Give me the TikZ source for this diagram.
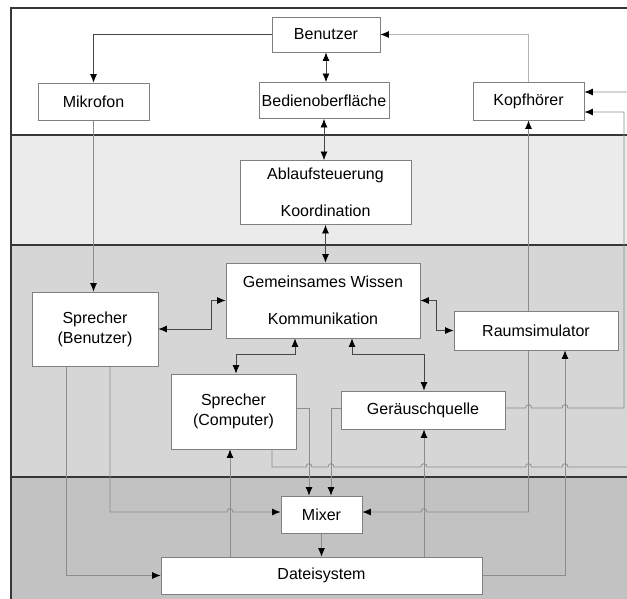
\documentclass[tikz,border=0pt]{standalone}
\usepackage{fontspec}
\setmainfont{Liberation Sans}
\usepackage{tikz}
\usetikzlibrary{arrows.meta}
\definecolor{bandA}{RGB}{235, 235, 235}
\definecolor{bandB}{RGB}{214, 214, 214}
\definecolor{bandC}{RGB}{194, 194, 194}
\definecolor{rim}{RGB}{55, 55, 55}
\definecolor{boxline}{RGB}{128, 128, 128}
\definecolor{midwire}{RGB}{140, 140, 140}
\definecolor{lightwire}{RGB}{180, 180, 180}
\definecolor{darkwire}{RGB}{70, 70, 70}

\pgfdeclarelayer{bands}
\pgfdeclarelayer{wires}
\pgfsetlayers{bands,wires,main}

% kleiner Bogen, wo sich zwei Leitungen kreuzen
\newcommand{\hopr}[2]{-- ({#1-3},#2) .. controls ({#1-3},{#2-4.5}) and ({#1+3},{#2-4.5}) .. ({#1+3},#2)}
\newcommand{\hopl}[2]{-- ({#1+3},#2) .. controls ({#1+3},{#2-4.5}) and ({#1-3},{#2-4.5}) .. ({#1-3},#2)}

\tikzset{
  block/.style={draw=boxline, fill=white, line width=0.9pt, align=center, inner sep=0pt,
    font=\fontsize{16}{20}\selectfont},
  conn/.style={draw=midwire, line width=0.8pt},
  dconn/.style={draw=darkwire, line width=0.8pt},
  lconn/.style={draw=lightwire, line width=0.8pt},
  onearrow/.style={-{Latex[length=8.5pt, width=7pt, color=black]}},
  twoarrow/.style={{Latex[length=8.5pt, width=7pt, color=black]}-{Latex[length=8.5pt, width=7pt, color=black]}}
}

\begin{document}
\begin{tikzpicture}[x=1pt, y=-1pt]
  \useasboundingbox (0, 0) rectangle (627, 598);

  \begin{pgfonlayer}{bands}
    \foreach \ya/\yb/\c in {8/135/white, 135/245/bandA, 245/477/bandB, 477/605/bandC} {
      \fill[\c] (11, \ya) rectangle (640, \yb);
    }
    \foreach \y in {135, 245, 477} {
      \draw[rim, line width=1.8pt] (11, \y) -- (640, \y);
    }
    \draw[rim, line width=1.2pt] (11, 605) -- (11, 8) -- (640, 8);
  \end{pgfonlayer}

  \node[block, minimum width=108, minimum height=35] (benutzer) at (326, 34.5) {Benutzer};
  \node[block, minimum width=111, minimum height=37] (mikro) at (93.5, 101.5) {Mikrofon};
  \node[block, minimum width=130, minimum height=36] (bedien) at (324, 100.5) {Bedienoberfläche};
  \node[block, minimum width=111, minimum height=38] (kopf) at (528.5, 101) {Kopfhörer};
  \node[block, minimum width=171, minimum height=64] (ablauf) at (325.5, 192.5) {Ablaufsteuerung\\[17pt]Koordination};
  \node[block, minimum width=194, minimum height=75] (wissen) at (323, 300.5) {Gemeinsames Wissen\\[17pt]Kommunikation};
  \node[block, minimum width=126, minimum height=74] (sprB) at (95, 329) {Sprecher\\(Benutzer)};
  \node[block, minimum width=164, minimum height=39] (raum) at (536, 330.5) {Raumsimulator};
  \node[block, minimum width=125, minimum height=75] (sprC) at (233.5, 411.5) {Sprecher\\(Computer)};
  \node[block, minimum width=164, minimum height=38] (quelle) at (423, 410) {Geräuschquelle};
  \node[block, minimum width=81, minimum height=37] (mixer) at (321.5, 514.5) {Mixer};
  \node[block, minimum width=321, minimum height=37] (datei) at (321.5, 575.5) {Dateisystem};

  \begin{pgfonlayer}{wires}
    % oberer Teil
    \draw[dconn, onearrow] (benutzer.west) -| (mikro.north);
    \draw[dconn, twoarrow] (benutzer.south) -- (benutzer.south |- bedien.north);
    \draw[lconn, onearrow] (kopf.north) |- (benutzer.east);
    \draw[dconn, twoarrow] (bedien.south) -- (bedien.south |- ablauf.north);
    \draw[dconn, twoarrow] (ablauf.south) -- (ablauf.south |- wissen.north);
    \draw[conn, onearrow] (mikro.south) -- (mikro.south |- sprB.north);
    \draw[dconn, twoarrow] (sprB.east) -- ++(53, 0) |- (wissen.west);
    \draw[dconn, twoarrow] (wissen.east) -- ++(16, 0) |- (raum.west);
    \draw[dconn, twoarrow] ([xshift=-28]wissen.south) -- ++(0, 16) -| ([xshift=2.5]sprC.north);
    \draw[dconn, twoarrow] ([xshift=29]wissen.south) -- ++(0, 16) -| ([xshift=1]quelle.north);

    % unterer Teil
    \draw[conn, onearrow] ([xshift=-29]sprB.south) |- (datei.west);
    \draw[conn, onearrow] ([xshift=15]sprB.south) -- (110, 512) \hopr{230}{512} -- ([yshift=2.5]mixer.west);
    \draw[conn, onearrow] ([xshift=-3.5]sprC.south |- datei.north) -- ([xshift=-3.5]sprC.south);
    \draw[conn, onearrow] ([xshift=1]quelle.south |- datei.north) -- ([xshift=1]quelle.south);
    \draw[conn, onearrow] (mixer.south) -- (mixer.south |- datei.north);
    \draw[conn, onearrow] ([yshift=3.5]sprC.east) -| ([xshift=-12.5]mixer.north);
    \draw[conn, onearrow] ([yshift=2]quelle.west) -| ([xshift=9.5]mixer.north);
    \draw[conn, onearrow] ([xshift=38.5]sprC.south) -- (272, 467) \hopr{309}{467} \hopr{331}{467}
      \hopr{424}{467} \hopr{528.5}{467} \hopr{565}{467} -- (640, 467) |- ([yshift=9]kopf.east);
    \draw[conn, onearrow] ([yshift=2]quelle.east) \hopr{528.5}{408} \hopr{565}{408} -- (624, 408)
      |- ([yshift=-11]kopf.east);
    \draw[conn, twoarrow] (kopf.south) -- (528.5, 512) \hopl{424}{512} -- ([yshift=2.5]mixer.east);
    \draw[conn, onearrow] (datei.east) -| ([xshift=29]raum.south);
  \end{pgfonlayer}
\end{tikzpicture}
\end{document}
